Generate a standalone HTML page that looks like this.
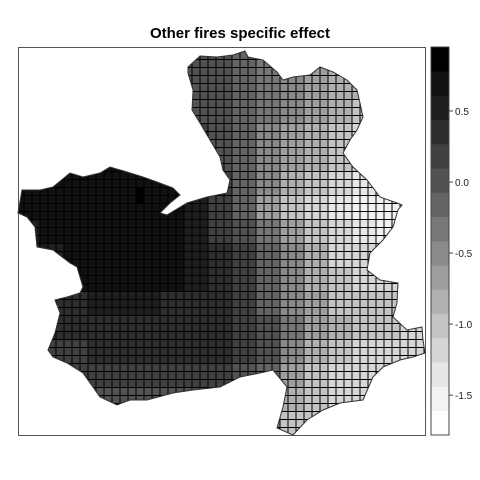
<!DOCTYPE html>
<html><head><meta charset="utf-8"><style>
body{margin:0;background:#fff;}
svg{display:block;font-family:"Liberation Sans",Arial,sans-serif;}
</style></head><body>
<svg id="chart" width="480" height="480" viewBox="0 0 480 480">
<text x="240" y="38" text-anchor="middle" font-size="15" font-weight="bold">Other fires specific effect</text>
<defs><clipPath id="regclip"><polygon id="clippoly"/></clipPath></defs>
<rect x="18.5" y="47.5" width="407" height="388" fill="none" stroke="#555" stroke-width="1"/>
<g id="cells" clip-path="url(#regclip)"></g>
<polygon id="outline" fill="none" stroke="#333" stroke-width="1"/>
<g id="colorbar"></g>
</svg>
<script>
// colour scale: 16 band colours from lowest to highest value
const bandColors = ["#ffffff","#f2f2f2","#e6e6e6","#d6d6d6","#c4c4c4","#b1b1b1","#9e9e9e","#8a8a8a","#777777","#646464","#525252","#404040","#2e2e2e","#1e1e1e","#111111","#000000"];
const scaleMin = -1.78;
const scaleMax = 0.95;
const tickValues = [0.5, 0.0, -0.5, -1.0, -1.5];
const tickLabels = ["0.5","0.0","-0.5","-1.0","-1.5"];
// estimated effect level (hex band index) per 3x3 block of grid cells, rows north->south
const levelRows = [
"eeeeeeeaa98765544",
"eeeeeeeaa98765544",
"eeeeeeeaa98765433",
"eeeeeeeba97654332",
"eeeeeeeba97654322",
"eeeeeeecb97543211",
"eeeeeeedb96432111",
"deeeeeedba8643211",
"ddeeeeedcb9753322",
"ddeeeeedcb9754332",
"cccdddcccb9764443",
"cccccccccba865443",
"bbbccccccba754333",
"aabbbbbbba9643333",
"aaaaaaaaaa8543333",
"aaaaaaaaaa7443333"
];
// darkest individual cells [col,row]
const darkCells = [[15,17],[15,18]];
const regionOutline = [[188,67],[200,56],[217,57],[233,55],[245,51],[248,57],[263,60],[277,72],[283,80],[293,77],[310,75],[320,67],[333,72],[347,80],[357,90],[360,103],[363,117],[357,130],[350,140],[343,153],[353,167],[367,180],[380,197],[397,203],[402,205],[398,210],[393,227],[383,240],[370,253],[367,270],[380,280],[398,283],[397,303],[393,317],[407,330],[422,327],[423,340],[425,353],[413,357],[400,360],[383,367],[373,377],[363,400],[340,403],[323,410],[307,420],[293,435],[277,428],[283,407],[287,387],[273,370],[260,373],[240,377],[220,387],[193,390],[173,393],[147,400],[130,400],[117,405],[100,397],[83,373],[67,363],[53,357],[48,350],[55,333],[60,313],[55,300],[67,297],[80,293],[83,287],[77,267],[70,263],[53,250],[37,247],[35,227],[27,217],[18,213],[22,190],[40,190],[53,187],[70,173],[83,177],[100,173],[110,167],[127,172],[143,177],[157,182],[173,188],[180,195],[170,203],[160,213],[167,215],[187,203],[207,197],[227,193],[230,180],[223,170],[220,157],[210,140],[200,123],[192,110],[193,90],[188,73]];

const NS="http://www.w3.org/2000/svg";
const gx0=16, gy0=51.5, cw=8, nCols=51, nRows=48;
const barX=431, barW=18, barTop=47, barBot=435;
function yBar(v){return barBot-(v-scaleMin)/(scaleMax-scaleMin)*(barBot-barTop);}
function cellX(c){return gx0+c*cw;}
function cellY(r){return gy0+r*cw;}

const pts=regionOutline.map(p=>p.join(",")).join(" ");
document.getElementById("clippoly").setAttribute("points",pts);
document.getElementById("outline").setAttribute("points",pts);

const cg=document.getElementById("cells");
for(let r=0;r<nRows;r++){
  const br=Math.min(levelRows.length-1,Math.floor(r/3));
  for(let c=0;c<nCols;c++){
    const bc=Math.min(levelRows[br].length-1,Math.floor(c/3));
    let lvl=parseInt(levelRows[br][bc],16);
    if(darkCells.some(d=>d[0]===c&&d[1]===r)) lvl=15;
    const rect=document.createElementNS(NS,"rect");
    rect.setAttribute("x",cellX(c));rect.setAttribute("y",cellY(r));
    rect.setAttribute("width",cw);rect.setAttribute("height",cw);
    rect.setAttribute("fill",bandColors[lvl]);
    rect.setAttribute("stroke","#000");rect.setAttribute("stroke-width","1");
    
    
    cg.appendChild(rect);
  }
}

const cb=document.getElementById("colorbar");
const step=(scaleMax-scaleMin)/bandColors.length;
bandColors.forEach((col,i)=>{
  const y1=yBar(scaleMin+(i+1)*step), y0=yBar(scaleMin+i*step);
  const rect=document.createElementNS(NS,"rect");
  rect.setAttribute("x",barX);rect.setAttribute("y",y1);
  rect.setAttribute("width",barW);rect.setAttribute("height",y0-y1+0.3);
  rect.setAttribute("fill",col);
  
  
  cb.appendChild(rect);
});
const frame=document.createElementNS(NS,"rect");
frame.setAttribute("x",barX);frame.setAttribute("y",barTop);
frame.setAttribute("width",barW);frame.setAttribute("height",barBot-barTop);
frame.setAttribute("fill","none");frame.setAttribute("stroke","#444");


cb.appendChild(frame);
tickValues.forEach((v,i)=>{
  const y=yBar(v);
  const ln=document.createElementNS(NS,"line");
  ln.setAttribute("x1",barX+barW);ln.setAttribute("x2",barX+barW+4);
  ln.setAttribute("y1",y);ln.setAttribute("y2",y);ln.setAttribute("stroke","#444");
  
  
  cb.appendChild(ln);
  const t=document.createElementNS(NS,"text");
  t.setAttribute("x",barX+barW+6);t.setAttribute("y",y+4);
  t.setAttribute("font-size","10");t.setAttribute("fill","#222");
  t.textContent=tickLabels[i];
  
  
  cb.appendChild(t);
});
</script>
</body></html>
